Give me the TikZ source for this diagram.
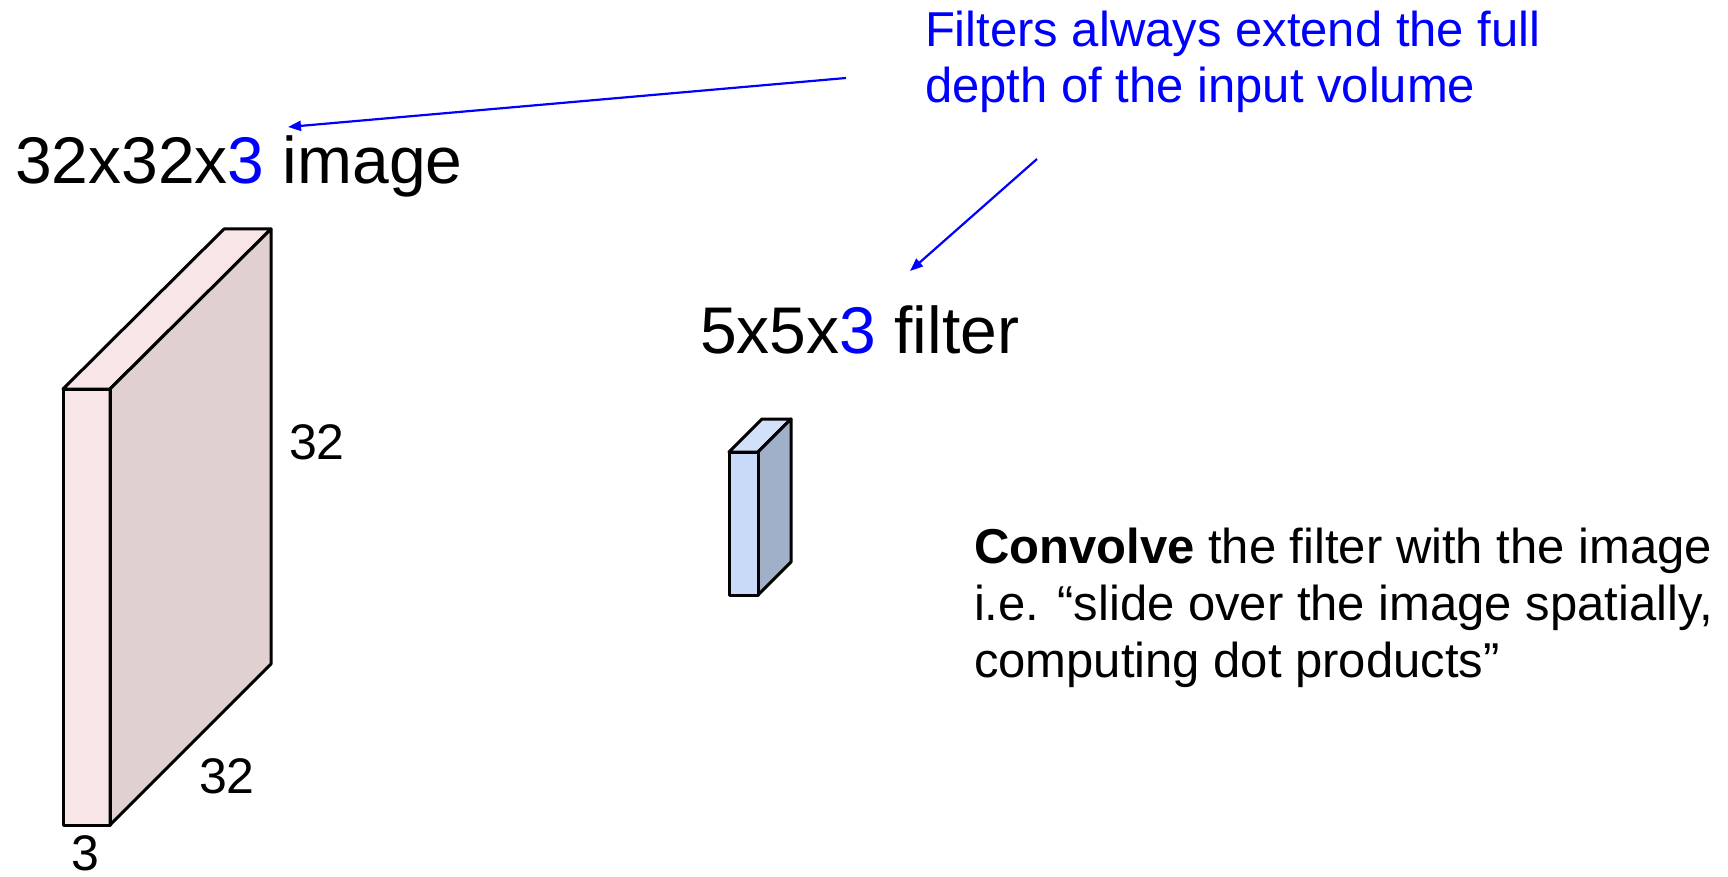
\documentclass[tikz,border=0pt]{standalone}
\usepackage{fontspec}
\setmainfont{Liberation Sans}
\usetikzlibrary{arrows.meta}
\definecolor{imgfront}{HTML}{F8E6E6}
\definecolor{imgside}{HTML}{E0D0D0}
\definecolor{filfront}{HTML}{C9DAF8}
\definecolor{filtop}{HTML}{D2E1F9}
\definecolor{filside}{HTML}{A0B0C8}
\tikzset{
  face/.style={draw=black,line width=3pt,line join=round},
  lbl/.style={anchor=base west,inner sep=0pt,outer sep=0pt},
  bluearrow/.style={draw=blue,line width=2.2pt,-{Triangle[length=13pt,width=10pt]}}
}
\begin{document}
\begin{tikzpicture}[x=1pt,y=-1pt]
\useasboundingbox (0,0) rectangle (1728,877);
% image volume
\fill[imgfront] (63,389) rectangle (110,825);
\filldraw[face,fill=imgfront] (63,389) -- (110,389) -- (271,229) -- (224,229) -- cycle;
\filldraw[face,fill=imgside] (110,389) -- (271,229) -- (271,664) -- (110,825) -- cycle;
\draw[face] (63,389) rectangle (110,825);
% filter volume
\filldraw[face,fill=filtop] (729,452) -- (758,452) -- (791,419) -- (762,419) -- cycle;
\filldraw[face,fill=filside] (758,452) -- (791,419) -- (791,562) -- (758,595) -- cycle;
\filldraw[face,fill=filfront] (729,452) rectangle (758,595);
% labels
\node[lbl,font=\fontsize{66}{66}\selectfont] (imglabel) at (15,184) {32x32x{\color{blue}3} image};
\node[lbl,font=\fontsize{66}{66}\selectfont] (fillabel) at (700,353) {5x5x{\color{blue}3} filter};
\node[lbl,font=\fontsize{50}{50}\selectfont] (h32) at (289,459) {32};
\node[lbl,font=\fontsize{50}{50}\selectfont] (w32) at (199,793) {32};
\node[lbl,font=\fontsize{50}{50}\selectfont] (d3) at (71,870) {3};
\node[lbl,font=\fontsize{49}{49}\selectfont,text=blue] (note1) at (925,47) {Filters always extend the full};
\node[lbl,font=\fontsize{49}{49}\selectfont,text=blue] (note2) at (925,103) {depth of the input volume};
\node[lbl,font=\fontsize{49}{49}\selectfont] (conv1) at (974,563) {\textbf{Convolve} the filter with the image};
\node[lbl,font=\fontsize{49}{49}\selectfont] (conv2) at (974,620) {i.e. “slide over the image spatially,};
\node[lbl,font=\fontsize{49}{49}\selectfont] (conv3) at (974,677) {computing dot products”};
% arrows
\coordinate (a1s) at (846,78);
\coordinate (a1e) at (288,127);
\coordinate (a2s) at (1037,159);
\coordinate (a2e) at (910,271);
\draw[bluearrow] (a1s) -- (a1e);
\draw[bluearrow] (a2s) -- (a2e);
\end{tikzpicture}
\end{document}
